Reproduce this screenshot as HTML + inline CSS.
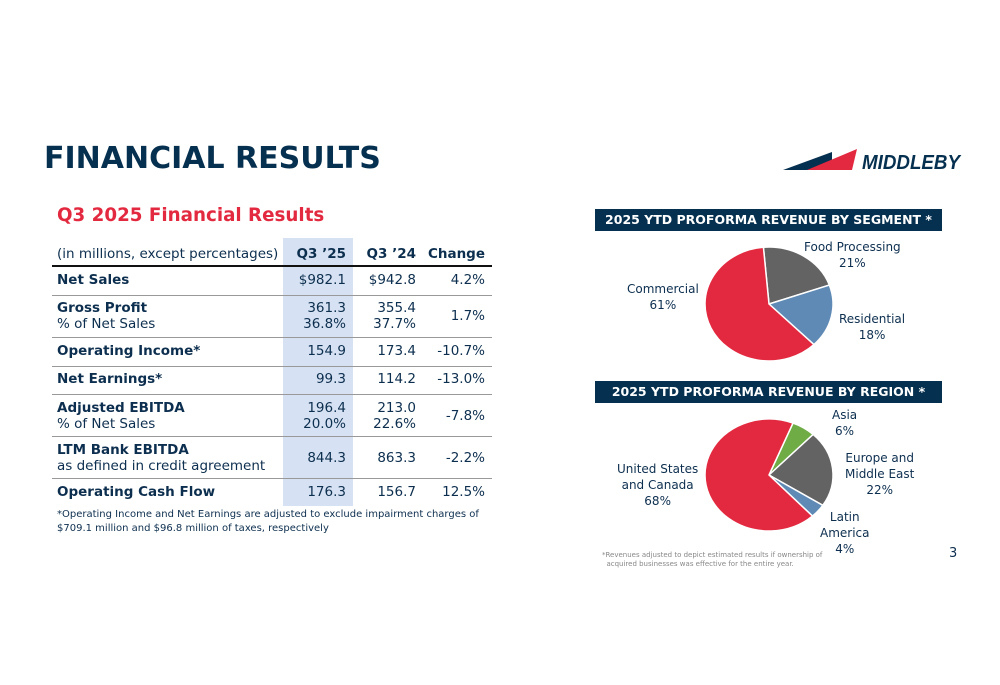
<!DOCTYPE html>
<html><head><meta charset="utf-8">
<style>
body{margin:0;width:1000px;height:685px;background:#fff;font-family:"DejaVu Sans","Liberation Sans",sans-serif;color:#0d2f4f;position:relative;overflow:hidden}
.abs{position:absolute}
#title{left:44px;top:141px;font-size:30px;font-weight:bold;letter-spacing:0;color:#06304f;margin:0}
#sub{left:57px;top:205px;font-size:18.3px;font-weight:bold;color:#e3293f;margin:0}
#shade{left:283px;top:238px;width:70px;height:268px;background:#d6e2f3}
.row{position:absolute;left:57px;width:434px;font-size:13.5px;color:#0d2f4f}
.row .l{position:absolute;left:0}
.row .c{position:absolute;text-align:right;width:80px}
.c1{left:209px}.c2{left:279px}.c3{left:348px}
.b{font-weight:bold}
.line{position:absolute;left:52px;width:440px;height:1px;background:#999}
.banner{position:absolute;left:595px;width:347px;height:22px;background:#06304f;color:#fff;font-size:12.5px;font-weight:bold;letter-spacing:0;text-align:center;line-height:22px}
.pl{position:absolute;font-size:12px;color:#0d2f4f;text-align:center;line-height:16px;letter-spacing:0}
</style></head><body>
<h1 id="title" class="abs">FINANCIAL RESULTS</h1>
<svg class="abs" style="left:780px;top:145px" width="200" height="30">
<polygon points="3,25 52,7 52,25" fill="#06304f"/><polygon points="27,25 77,4 72,25" fill="#e3293f"/>
<text x="82" y="24" font-family="Liberation Sans" font-weight="bold" font-style="italic" font-size="20" fill="#06304f" textLength="98" lengthAdjust="spacingAndGlyphs">MIDDLEBY</text></svg>
<h2 id="sub" class="abs">Q3 2025 Financial Results</h2>
<div id="shade" class="abs"></div>

<div class="row" style="top:246px"><span class="l">(in millions, except percentages)</span><span class="c c1 b">Q3 ’25</span><span class="c c2 b">Q3 ’24</span><span class="c c3 b">Change</span></div>
<div class="line" style="top:265px;height:2px;background:#111"></div>
<div class="row" style="top:272px"><span class="l b">Net Sales</span><span class="c c1">$982.1</span><span class="c c2">$942.8</span><span class="c c3">4.2%</span></div>
<div class="line" style="top:295px"></div>
<div class="row" style="top:300px"><span class="l"><b>Gross Profit</b><br>% of Net Sales</span><span class="c c1">361.3<br>36.8%</span><span class="c c2">355.4<br>37.7%</span><span class="c c3" style="top:8px">1.7%</span></div>
<div class="line" style="top:337px"></div>
<div class="row" style="top:343px"><span class="l b">Operating Income*</span><span class="c c1">154.9</span><span class="c c2">173.4</span><span class="c c3">-10.7%</span></div>
<div class="line" style="top:366px"></div>
<div class="row" style="top:371px"><span class="l b">Net Earnings*</span><span class="c c1">99.3</span><span class="c c2">114.2</span><span class="c c3">-13.0%</span></div>
<div class="line" style="top:394px"></div>
<div class="row" style="top:400px"><span class="l"><b>Adjusted EBITDA</b><br>% of Net Sales</span><span class="c c1">196.4<br>20.0%</span><span class="c c2">213.0<br>22.6%</span><span class="c c3" style="top:8px">-7.8%</span></div>
<div class="line" style="top:436px"></div>
<div class="row" style="top:442px"><span class="l"><b>LTM Bank EBITDA</b><br>as defined in credit agreement</span><span class="c c1" style="top:8px">844.3</span><span class="c c2" style="top:8px">863.3</span><span class="c c3" style="top:8px">-2.2%</span></div>
<div class="line" style="top:478px"></div>
<div class="row" style="top:484px"><span class="l b">Operating Cash Flow</span><span class="c c1">176.3</span><span class="c c2">156.7</span><span class="c c3">12.5%</span></div>
<div class="abs" style="left:57px;top:508px;font-size:10px;line-height:14px">*Operating Income and Net Earnings are adjusted to exclude impairment charges of<br>$709.1 million and $96.8 million of taxes, respectively</div>

<div class="banner" style="top:209px">2025 YTD PROFORMA REVENUE BY SEGMENT *</div>
<div class="banner" style="top:381px">2025 YTD PROFORMA REVENUE BY REGION *</div>
<svg id="pies" class="abs" style="left:0;top:0" width="1000" height="685"></svg>

<div class="pl" style="left:804px;top:239px">Food Processing<br>21%</div>
<div class="pl" style="left:839px;top:311px">Residential<br>18%</div>
<div class="pl" style="left:627px;top:281px">Commercial<br>61%</div>
<div class="pl" style="left:832px;top:407px">Asia<br>6%</div>
<div class="pl" style="left:845px;top:450px">Europe and<br>Middle East<br>22%</div>
<div class="pl" style="left:820px;top:509px">Latin<br>America<br>4%</div>
<div class="pl" style="left:617px;top:461px">United States<br>and Canada<br>68%</div>
<div class="abs" style="left:602px;top:551px;font-size:7px;color:#888;line-height:9px">*Revenues adjusted to depict estimated results if ownership of<br>&nbsp;&nbsp;acquired businesses was effective for the entire year.</div>
<div class="abs" style="left:949px;top:546px;font-size:13px;color:#0d2f4f">3</div>
<script>
const segNames=["Food Processing","Residential","Commercial"];
const segValues=[21,18,61];
const regNames=["Asia","Europe and Middle East","Latin America","United States and Canada"];
const regValues=[6,22,4,68];
const segColors=["#636363","#5f8ab5","#e3293f"];
const regColors=["#6fac46","#636363","#5f8ab5","#e3293f"];
const svg=document.getElementById('pies');
function pie(names,vals,colors,cx,cy,rx,ry,startDeg,key){
  const tot=vals.reduce((a,b)=>a+b,0);let a=startDeg;
  vals.forEach((v,i)=>{
    const b=a+v/tot*360;
    const p=d=>{const r=d*Math.PI/180;return [cx+rx*Math.sin(r),cy-ry*Math.cos(r)];};
    const [x1,y1]=p(a),[x2,y2]=p(b);
    const path=document.createElementNS('http://www.w3.org/2000/svg','path');
    path.setAttribute('d',`M${cx},${cy}L${x1},${y1}A${rx},${ry} 0 ${b-a>180?1:0} 1 ${x2},${y2}Z`);
    path.setAttribute('fill',colors[i]);path.setAttribute('stroke','#fff');path.setAttribute('stroke-width','1.5');
    
    
    svg.appendChild(path);a=b;
  });
}
pie(segNames,segValues,segColors,769,304,64,57,-5,'segment');
pie(regNames,regValues,regColors,769,475,64,56,22,'region');
</script>
</body></html>
